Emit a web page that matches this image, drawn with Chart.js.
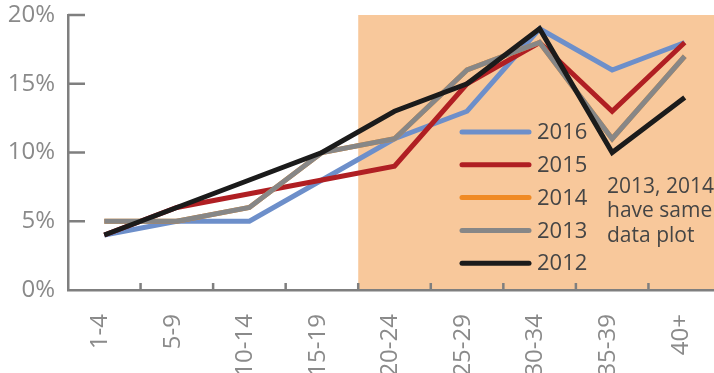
<!DOCTYPE html>
<html>
<head>
<meta charset="utf-8">
<script src="https://cdn.jsdelivr.net/npm/chart.js@4.4.1/dist/chart.umd.min.js"></script>
<style>
  html, body { margin: 0; padding: 0; background: #fff; overflow: hidden; }
  #wrap { width: 714px; height: 373px; overflow: hidden; }
</style>
</head>
<body>
<div id="wrap">
  <canvas id="ageChart" width="722" height="373"></canvas>
</div>
<script>
// age groups along the bottom
const ageGroups = ['1-4', '5-9', '10-14', '15-19', '20-24', '25-29', '30-34', '35-39', '40+'];
const yTicks = [0, 5, 10, 15, 20];

// share per age group, percent
const share2016 = [4, 5, 5, 8, 11, 13, 19, 16, 18];
const share2015 = [4, 6, 7, 8, 9, 15, 18, 13, 18];
const share2014 = [5, 5, 6, 10, 11, 16, 18, 11, 17];
const share2013 = [5, 5, 6, 10, 11, 16, 18, 11, 17];
const share2012 = [4, 6, 8, 10, 13, 15, 19, 10, 14];

const years = ['2016', '2015', '2014', '2013', '2012'];
const colors = ['#6d8fca', '#b01f23', '#f08a24', '#878787', '#1b1b1b'];
const series = [share2016, share2015, share2014, share2013, share2012];

const shadeFrom = '20-24';
const noteLines = ['2013, 2014', 'have same', 'data plot'];

const axisColor = '#7f7f7f';
const labelColor = '#8a8a8a';
const textColor = '#454545';

// peach band + inward tick marks, drawn under the lines
const backdrop = {
  id: 'backdrop',
  beforeDatasetsDraw(chart) {
    const { ctx, chartArea, scales } = chart;
    const x = scales.x, y = scales.y;
    const step = x.getPixelForTick(1) - x.getPixelForTick(0);
    const i0 = ageGroups.indexOf(shadeFrom);
    const left = x.getPixelForTick(i0) - step / 2;
    ctx.save();
    ctx.fillStyle = '#f8c89b';
    ctx.fillRect(left, chartArea.top, chartArea.right - left + 10, chartArea.bottom - chartArea.top - 1);

    ctx.strokeStyle = axisColor;
    ctx.lineWidth = 2.5;
    ctx.beginPath();
    yTicks.forEach(v => {
      if (v === 0) return;
      const py = y.getPixelForValue(v);
      ctx.moveTo(chartArea.left, py);
      ctx.lineTo(chartArea.left + 17, py);
    });
    for (let i = 0; i < ageGroups.length - 1; i++) {
      const px = x.getPixelForTick(i) + step / 2;
      ctx.moveTo(px, chartArea.bottom);
      ctx.lineTo(px, chartArea.bottom - 7);
    }
    ctx.stroke();
    ctx.restore();
  },
  afterDatasetsDraw(chart) {
    const { ctx, chartArea } = chart;
    const lx = chartArea.left + 394;
    ctx.save();
    ctx.font = '22px "Open Sans"';
    ctx.textBaseline = 'middle';
    ctx.lineCap = 'round';
    ctx.lineWidth = 5;
    years.forEach((yr, i) => {
      const ly = chartArea.top + 117 + i * 32.8;
      ctx.strokeStyle = colors[i];
      ctx.beginPath();
      ctx.moveTo(lx, ly);
      ctx.lineTo(lx + 67, ly);
      ctx.stroke();
      ctx.fillStyle = textColor;
      ctx.fillText(yr, lx + 75, ly + 1);
    });
    ctx.font = '21px "Open Sans"';
    noteLines.forEach((t, i) => {
      ctx.fillText(t, chartArea.left + 539, chartArea.top + 172 + i * 24.5);
    });
    ctx.restore();
  }
};

new Chart(document.getElementById('ageChart'), {
  type: 'line',
  data: {
    labels: ageGroups,
    datasets: years.map((yr, i) => ({
      label: yr,
      data: series[i],
      borderColor: colors[i],
      backgroundColor: colors[i],
      borderWidth: 5,
      borderJoinStyle: 'miter',
      pointRadius: 0,
      tension: 0,
      order: years.length - 1 - i
    }))
  },
  options: {
    responsive: false,
    animation: false,
    layout: { padding: { top: 15, right: 1, left: 0, bottom: 0 } },
    plugins: {
      legend: { display: false },
      tooltip: { enabled: false }
    },
    scales: {
      x: {
        offset: true,
        grid: { display: false },
        border: { display: true, color: axisColor, width: 2.5 },
        ticks: {
          color: labelColor,
          font: { family: 'Open Sans', size: 24 },
          minRotation: 90,
          maxRotation: 90,
          padding: 16,
          labelOffset: -4,
          autoSkip: false
        },
        afterFit(scale) {
          scale.height = 83;
          scale.paddingLeft = 0;
          scale.paddingRight = 0;
        }
      },
      y: {
        min: 0,
        max: 20,
        grid: { display: false },
        border: { display: true, color: axisColor, width: 2.5 },
        afterBuildTicks(scale) { scale.ticks = yTicks.map(v => ({ value: v })); },
        ticks: {
          color: labelColor,
          font: { family: 'Open Sans', size: 24 },
          padding: 5,
          callback: v => v + '%'
        },
        afterFit(scale) {
          scale.width = 68;
          scale.paddingTop = 0;
          scale.paddingBottom = 0;
        }
      }
    }
  },
  plugins: [backdrop]
});
</script>
</body>
</html>
